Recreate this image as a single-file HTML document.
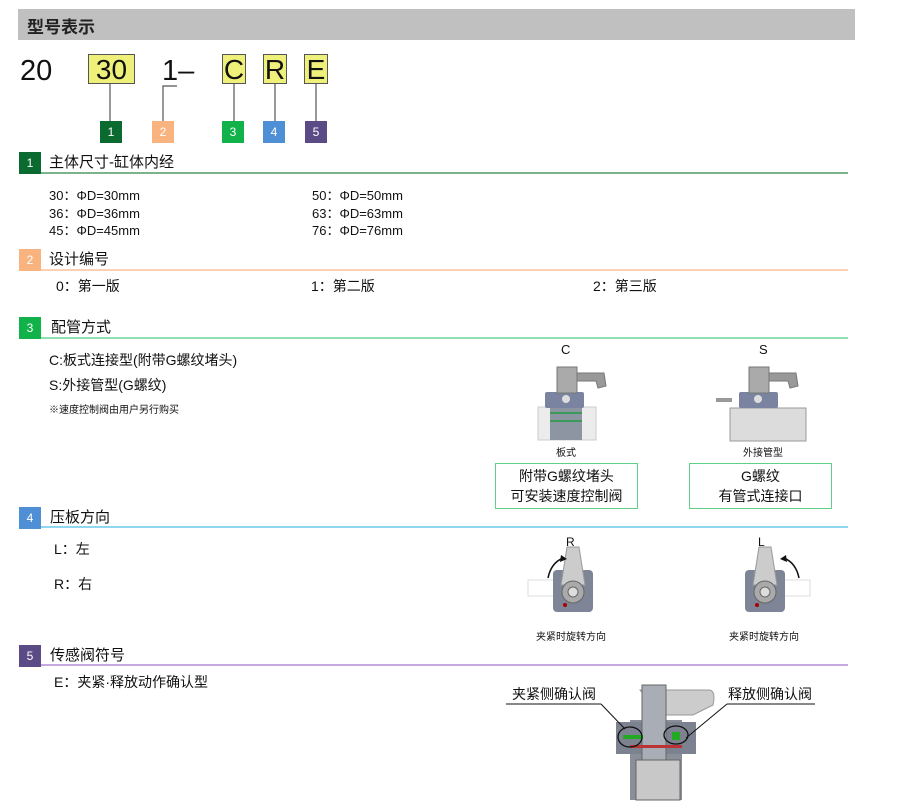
<!DOCTYPE html>
<html><head><meta charset="utf-8"><style>
body{margin:0;width:900px;height:805px;background:#fff;position:relative;overflow:hidden;font-family:"Liberation Sans","Noto Sans CJK SC",sans-serif;color:#111}
.a{position:absolute;white-space:nowrap}
.sq{position:absolute;width:22px;height:22px;color:#fff;font-size:12px;text-align:center;line-height:22px}
.yb{position:absolute;background:#eef07a;border:1px solid #555;height:28px;top:54px;font-size:28px;line-height:30px;text-align:center}
.t{font-size:14px}
.b{position:absolute;border:1.5px solid #5fcf8a;font-size:14px;text-align:center;line-height:20px;padding-top:2px;box-sizing:border-box}
</style></head><body>
<div class="a" style="left:18px;top:9px;width:837px;height:31px;background:#c0c0c0"></div>
<div class="a" style="left:27px;top:13px;font-size:17px;font-weight:bold;color:#222">型号表示</div>

<div class="a" style="left:20px;top:55px;font-size:29px">20</div>
<div class="yb" style="left:88px;width:45px">30</div>
<div class="a" style="left:162px;top:55px;font-size:29px">1–</div>
<div class="yb" style="left:222px;width:22px">C</div>
<div class="yb" style="left:263px;width:22px">R</div>
<div class="yb" style="left:304px;width:22px">E</div>

<svg class="a" style="left:0;top:0" width="900" height="805">
<g stroke="#555" stroke-width="1.2" fill="none">
<line x1="110" y1="83" x2="110" y2="121"/>
<polyline points="177,86 163,86 163,121"/>
<line x1="234" y1="83" x2="234" y2="121"/>
<line x1="275" y1="83" x2="275" y2="121"/>
<line x1="316" y1="83" x2="316" y2="121"/>
</g>
<line x1="41" y1="173" x2="848" y2="173" stroke="#4f9b6a" stroke-width="1.5"/>
<line x1="41" y1="270" x2="848" y2="270" stroke="#f9c49a" stroke-width="1.5"/>
<line x1="41" y1="338" x2="848" y2="338" stroke="#6fd49a" stroke-width="1.5"/>
<line x1="41" y1="527" x2="848" y2="527" stroke="#6cc8ee" stroke-width="1.5"/>
<line x1="41" y1="665" x2="848" y2="665" stroke="#b08ed6" stroke-width="1.5"/>

<rect x="538" y="407" width="58" height="33" fill="#ececec" stroke="#ccc"/>
<rect x="550" y="405" width="32" height="35" fill="#8d95a3"/>
<rect x="550" y="412" width="32" height="2" fill="#3a9a5a"/><rect x="550" y="420" width="32" height="2" fill="#3a9a5a"/>
<rect x="545" y="392" width="39" height="16" rx="2" fill="#7a84a0"/>
<circle cx="566" cy="399" r="4" fill="#ddd"/>
<rect x="557" y="367" width="20" height="26" fill="#aaa" stroke="#777"/>
<path d="M577 373 L604 373 L606 386 L598 388 L596 381 L577 381Z" fill="#999" stroke="#777"/>
<rect x="730" y="408" width="76" height="33" fill="#dcdcdc" stroke="#999"/>
<rect x="739" y="392" width="39" height="16" rx="2" fill="#7a84a0"/>
<circle cx="758" cy="399" r="4" fill="#ddd"/>
<rect x="716" y="398" width="16" height="4" fill="#999"/>
<rect x="749" y="367" width="20" height="26" fill="#aaa" stroke="#777"/>
<path d="M769 373 L796 373 L798 386 L790 388 L788 381 L769 381Z" fill="#999" stroke="#777"/>
<g transform="translate(573,590)">
<rect x="-45" y="-10" width="30" height="16" fill="none" stroke="#ddd"/>
<rect x="-20" y="-20" width="40" height="42" rx="4" fill="#7d8596"/>
<path d="M-6 -43 L6 -43 L12 -5 L-12 -5Z" fill="#ccc" stroke="#999"/>
<circle cx="0" cy="2" r="11" fill="#aaa" stroke="#666"/><circle cx="0" cy="2" r="5" fill="#ddd" stroke="#666"/>
<circle cx="-8" cy="15" r="2" fill="#a00"/>
<path d="M-25 -12 Q-22 -27 -10 -32" fill="none" stroke="#111" stroke-width="1.5"/>
<path d="M-12 -35 L-6 -31 L-13 -28Z" fill="#111"/>
</g>
<g transform="translate(765,590)">
<rect x="15" y="-10" width="30" height="16" fill="none" stroke="#ddd"/>
<rect x="-20" y="-20" width="40" height="42" rx="4" fill="#7d8596"/>
<path d="M-6 -43 L6 -43 L12 -5 L-12 -5Z" fill="#ccc" stroke="#999"/>
<circle cx="0" cy="2" r="11" fill="#aaa" stroke="#666"/><circle cx="0" cy="2" r="5" fill="#ddd" stroke="#666"/>
<circle cx="-8" cy="15" r="2" fill="#a00"/>
<path d="M34 -12 Q31 -27 19 -32" fill="none" stroke="#111" stroke-width="1.5"/>
<path d="M21 -35 L15 -31 L22 -28Z" fill="#111"/>
</g>
<line x1="506" y1="704" x2="601" y2="704" stroke="#111"/>
<line x1="727" y1="704" x2="815" y2="704" stroke="#111"/>
<path d="M640 690 L710 690 Q716 692 713 705 L693 715 L660 715Z" fill="#ccc" stroke="#999"/>
<rect x="630" y="720" width="52" height="80" fill="#8a8e98"/>
<rect x="616" y="722" width="66" height="32" fill="#7d8290"/>
<rect x="682" y="722" width="14" height="32" fill="#7d8290"/>
<rect x="642" y="685" width="24" height="95" fill="#a9adb5" stroke="#666"/>
<rect x="636" y="760" width="44" height="40" fill="#c8c8c8" stroke="#666"/>
<rect x="630" y="745" width="52" height="3" fill="#b33"/>
<rect x="623" y="735" width="20" height="4" fill="#2a2"/>
<rect x="672" y="732" width="8" height="8" fill="#2a2"/>
<ellipse cx="630" cy="737" rx="12" ry="10" fill="none" stroke="#111" stroke-width="1.3"/>
<ellipse cx="676" cy="735" rx="12" ry="9" fill="none" stroke="#111" stroke-width="1.3"/>
<line x1="601" y1="704" x2="625" y2="729" stroke="#111"/>
<line x1="727" y1="704" x2="686" y2="738" stroke="#111"/>
</svg>

<div class="sq" style="left:100px;top:121px;background:#0b6a30">1</div>
<div class="sq" style="left:152px;top:121px;background:#f9b37e">2</div>
<div class="sq" style="left:222px;top:121px;background:#12b24b">3</div>
<div class="sq" style="left:263px;top:121px;background:#4f8fd6">4</div>
<div class="sq" style="left:305px;top:121px;background:#5a4a85">5</div>

<div class="sq" style="left:19px;top:152px;background:#0b6a30">1</div>
<div class="a t" style="left:49px;top:151px;font-size:15px">主体尺寸-缸体内经</div>
<div class="a" style="left:49px;top:187px;font-size:13px;line-height:17.5px">30：ΦD=30mm<br>36：ΦD=36mm<br>45：ΦD=45mm</div>
<div class="a" style="left:312px;top:187px;font-size:13px;line-height:17.5px">50：ΦD=50mm<br>63：ΦD=63mm<br>76：ΦD=76mm</div>

<div class="sq" style="left:19px;top:249px;background:#f9b37e">2</div>
<div class="a t" style="left:49px;top:248px;font-size:15px">设计编号</div>
<div class="a t" style="left:56px;top:276px">0：第一版</div>
<div class="a t" style="left:311px;top:276px">1：第二版</div>
<div class="a t" style="left:593px;top:276px">2：第三版</div>

<div class="sq" style="left:19px;top:317px;background:#12b24b">3</div>
<div class="a t" style="left:51px;top:316px;font-size:15px">配管方式</div>
<div class="a t" style="left:49px;top:350px">C:板式连接型(附带G螺纹堵头)</div>
<div class="a t" style="left:49px;top:375px">S:外接管型(G螺纹)</div>
<div class="a" style="left:49px;top:401px;font-size:10px">※速度控制阀由用户另行购买</div>
<div class="a" style="left:561px;top:342px;font-size:13px">C</div>
<div class="a" style="left:759px;top:342px;font-size:13px">S</div>
<div class="a" style="left:556px;top:444px;font-size:10px">板式</div>
<div class="a" style="left:743px;top:444px;font-size:10px">外接管型</div>
<div class="b" style="left:495px;top:463px;width:143px;height:46px">附带G螺纹堵头<br>可安装速度控制阀</div>
<div class="b" style="left:689px;top:463px;width:143px;height:46px">G螺纹<br>有管式连接口</div>

<div class="sq" style="left:19px;top:507px;background:#4f8fd6">4</div>
<div class="a t" style="left:50px;top:506px;font-size:15px">压板方向</div>
<div class="a t" style="left:54px;top:539px">L：左</div>
<div class="a t" style="left:54px;top:574px">R：右</div>
<div class="a" style="left:566px;top:535px;font-size:12px">R</div>
<div class="a" style="left:758px;top:535px;font-size:12px">L</div>
<div class="a" style="left:536px;top:628px;font-size:10px">夹紧时旋转方向</div>
<div class="a" style="left:729px;top:628px;font-size:10px">夹紧时旋转方向</div>

<div class="sq" style="left:19px;top:645px;background:#5a4a85">5</div>
<div class="a t" style="left:50px;top:644px;font-size:15px">传感阀符号</div>
<div class="a t" style="left:54px;top:672px">E：夹紧·释放动作确认型</div>
<div class="a t" style="left:512px;top:684px">夹紧侧确认阀</div>
<div class="a t" style="left:728px;top:684px">释放侧确认阀</div>
</body></html>
